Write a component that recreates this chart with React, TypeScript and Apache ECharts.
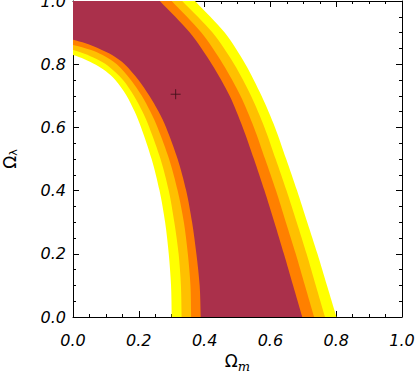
import React, { useEffect, useRef } from "react";
import * as echarts from "echarts";

// Axis tick values (labels are formatted with one decimal)
const xTicks = [0, 0.2, 0.4, 0.6, 0.8, 1.0];
const yTicks = [0, 0.2, 0.4, 0.6, 0.8, 1.0];

// Left boundaries of the bands (x, y), from beyond the left axis down to below y = 0
const yellowLeft = [[-0.04, 0.838], [0, 0.829], [0.035, 0.816], [0.068, 0.799], [0.1, 0.778], [0.128, 0.751], [0.162, 0.702], [0.187, 0.651], [0.207, 0.6], [0.239, 0.5], [0.263, 0.4], [0.28, 0.3], [0.291, 0.2], [0.298, 0.1], [0.3, 0], [0.3, -0.04]];
const goldLeft = [[-0.04, 0.854], [0, 0.845], [0.035, 0.833], [0.07, 0.817], [0.106, 0.795], [0.152, 0.75], [0.185, 0.7], [0.211, 0.65], [0.232, 0.6], [0.266, 0.5], [0.291, 0.4], [0.308, 0.3], [0.321, 0.2], [0.328, 0.1], [0.33, 0], [0.33, -0.04]];
const orangeLeft = [[-0.04, 0.87], [0, 0.861], [0.055, 0.845], [0.09, 0.829], [0.133, 0.8], [0.176, 0.75], [0.209, 0.7], [0.235, 0.65], [0.257, 0.6], [0.292, 0.5], [0.318, 0.4], [0.337, 0.3], [0.349, 0.2], [0.357, 0.1], [0.359, 0], [0.359, -0.04]];
const redLeft = [[-0.04, 0.886], [0, 0.877], [0.038, 0.866], [0.075, 0.851], [0.12, 0.828], [0.157, 0.8], [0.199, 0.75], [0.232, 0.7], [0.26, 0.65], [0.283, 0.6], [0.318, 0.5], [0.344, 0.4], [0.362, 0.3], [0.375, 0.2], [0.385, 0.1], [0.388, 0], [0.388, -0.04]];

// Right boundaries of the bands (x, y), from above the top down to below y = 0
const yellowRight = [[0.355, 1.02], [0.371, 1.0], [0.461, 0.9], [0.524, 0.8], [0.573, 0.7], [0.614, 0.6], [0.648, 0.5], [0.681, 0.4], [0.712, 0.3], [0.743, 0.2], [0.772, 0.1], [0.801, 0], [0.813, -0.04]];
const goldRight = [[0.314, 1.02], [0.332, 1.0], [0.424, 0.9], [0.49, 0.8], [0.541, 0.7], [0.582, 0.6], [0.616, 0.5], [0.649, 0.4], [0.68, 0.3], [0.71, 0.2], [0.738, 0.1], [0.766, 0], [0.777, -0.04]];
const orangeRight = [[0.282, 1.02], [0.3, 1.0], [0.39, 0.9], [0.456, 0.8], [0.509, 0.7], [0.55, 0.6], [0.584, 0.5], [0.617, 0.4], [0.647, 0.3], [0.677, 0.2], [0.705, 0.1], [0.733, 0], [0.744, -0.04]];
const redRight = [[0.246, 1.02], [0.264, 1.0], [0.355, 0.9], [0.422, 0.8], [0.476, 0.7], [0.516, 0.6], [0.55, 0.5], [0.582, 0.4], [0.612, 0.3], [0.641, 0.2], [0.669, 0.1], [0.697, 0], [0.708, -0.04]];

// Best-fit point
const bestFit = [[0.312, 0.705]];

const bandColors = ["#ffff00", "#ffc000", "#ff8000", "#aa304b"];
const bandLefts = [yellowLeft, goldLeft, orangeLeft, redLeft];
const bandRights = [yellowRight, goldRight, orangeRight, redRight];

export default function App() {
  const ref = useRef<HTMLDivElement>(null);
  useEffect(() => {
    if (!ref.current) return;
    const chart = echarts.init(ref.current, undefined, { renderer: "svg" });
    const labelStyle = {
      fontFamily: "DejaVu Sans",
      fontStyle: "italic" as const,
      fontSize: 16,
      color: "#000",
    };
    const axisCommon = {
      type: "value" as const,
      min: 0,
      max: 1,
      interval: 0.2,
      axisLine: { show: true, onZero: false, lineStyle: { color: "#000", width: 1 } },
      axisTick: { show: true, inside: true, length: 6, lineStyle: { color: "#000", width: 1 } },
      minorTick: { show: true, splitNumber: 4, length: 3, lineStyle: { color: "#000", width: 1 } },
      splitLine: { show: false },
    };
    const fmt = (v: number) => v.toFixed(1);
    chart.setOption({
      animation: false,
      grid: { left: 73, right: 16, top: 1, bottom: 61, outerBoundsMode: "none", containLabel: false },
      xAxis: [
        {
          ...axisCommon,
          position: "bottom",
          axisLabel: { ...labelStyle, margin: 15, formatter: fmt },
          name: "{a|Ω}{b|m}",
          nameLocation: "middle",
          nameGap: 31,
          nameTextStyle: {
            rich: {
              a: { fontFamily: "DejaVu Sans", fontSize: 17, color: "#000" },
              b: { fontFamily: "DejaVu Serif", fontStyle: "italic", fontSize: 13, color: "#000", verticalAlign: "bottom", padding: [10, 0, 0, 0] },
            },
          },
        },
        {
          ...axisCommon,
          position: "top",
          axisLabel: { show: false },
        },
      ],
      yAxis: [
        {
          ...axisCommon,
          position: "left",
          axisLabel: { ...labelStyle, margin: 7, formatter: fmt },
          name: "{a|Ω}{b|λ}",
          nameLocation: "middle",
          nameGap: 54,
          nameTextStyle: {
            lineHeight: 18,
            rich: {
              a: { fontFamily: "DejaVu Sans", fontSize: 17, lineHeight: 18, color: "#000" },
              b: { fontFamily: "DejaVu Sans", fontSize: 11, lineHeight: 11, color: "#000", verticalAlign: "bottom" },
            },
          },
        },
        {
          ...axisCommon,
          position: "right",
          axisLabel: { show: false },
        },
      ],
      series: [
        {
          type: "custom",
          xAxisIndex: 0,
          yAxisIndex: 0,
          clip: true,
          data: bandColors.map((_, i) => [i]),
          renderItem: (params: any, api: any) => {
            const i = params.dataIndex;
            const pts = [[-0.06, 1.06], ...bandLefts[i], ...bandRights[i].slice().reverse()];
            return {
              type: "polygon",
              shape: { points: pts.map((p) => api.coord(p)), smooth: 0.3 },
              style: { fill: bandColors[i], stroke: null },
              silent: true,
            };
          },
          z: 1,
        },
        {
          type: "scatter",
          xAxisIndex: 0,
          yAxisIndex: 0,
          data: bestFit,
          symbol: "path://M0 5H10M5 0V10",
          symbolSize: 10,
          itemStyle: { color: "rgba(0,0,0,0)", borderColor: "#3a0f18", borderWidth: 1 },
          z: 5,
        },
      ],
    });
    return () => chart.dispose();
  }, []);
  return (
    <div
      ref={ref}
      style={{ position: "fixed", left: 0, top: 0, width: 418, height: 378, background: "#fff" }}
    />
  );
}
